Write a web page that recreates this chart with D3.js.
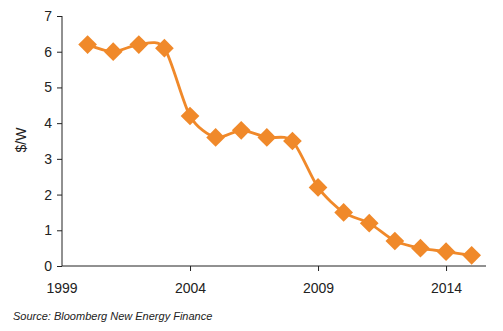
<!DOCTYPE html>
<html>
<head>
<meta charset="utf-8">
<script src="https://cdn.jsdelivr.net/npm/d3@7"></script>
<style>
  body { margin: 0; background: #fff; }
  text { font-family: "Liberation Sans", Arial, sans-serif; fill: #222; }
</style>
</head>
<body>
<div id="chart"></div>
<script>
// Data
var years = [2000, 2001, 2002, 2003, 2004, 2005, 2006, 2007, 2008, 2009, 2010, 2011, 2012, 2013, 2014, 2015];
var prices = [6.2, 6.0, 6.2, 6.1, 4.2, 3.6, 3.8, 3.6, 3.5, 2.2, 1.5, 1.2, 0.7, 0.5, 0.4, 0.3];
var xTicks = [2004, 2009, 2014];
var yTicks = [0, 1, 2, 3, 4, 5, 6, 7];

var width = 503, height = 331;
var margin = { left: 62, top: 16, right: 17, bottom: 65 };

var svg = d3.select("#chart").append("svg")
    .attr("width", width)
    .attr("height", height);

var x = d3.scaleLinear()
    .domain([1999, 2015.56])
    .range([margin.left, width - margin.right]);

var y = d3.scaleLinear()
    .domain([0, 7])
    .range([height - margin.bottom, margin.top]);

// y axis
var yAxis = d3.axisLeft(y)
    .tickValues(yTicks)
    .tickSize(5)
    .tickPadding(5)
    .tickFormat(d3.format("d"));

svg.append("g")
    .attr("transform", "translate(" + margin.left + ",0)")
    .call(yAxis)
    .call(g => g.select(".domain").attr("d", "M0," + y(7) + "V" + y(0)).attr("stroke", "#222"))
    .call(g => g.selectAll(".tick line").attr("stroke", "#222"))
    .call(g => g.selectAll("text").style("font-size", "14px").attr("fill", "#222"));

// x axis
var xAxis = d3.axisBottom(x)
    .tickValues(xTicks)
    .tickSize(5)
    .tickPadding(12)
    .tickFormat(d3.format("d"));

var gx = svg.append("g")
    .attr("transform", "translate(0," + y(0) + ")")
    .call(xAxis)
    .call(g => g.select(".domain").attr("d", "M" + margin.left + ",0H" + (width - margin.right)).attr("stroke", "#222"))
    .call(g => g.selectAll(".tick line").attr("stroke", "#222"))
    .call(g => g.selectAll("text").style("font-size", "14px").attr("fill", "#222"));

// 1999 label at origin (no tick mark)
gx.append("text")
    .attr("x", x(1999))
    .attr("y", 17)
    .attr("dy", "0.71em")
    .attr("text-anchor", "middle")
    .style("font-size", "14px")
    .text("1999");

// y label
svg.append("text")
    .attr("transform", "translate(26,140) rotate(-90)")
    .attr("text-anchor", "middle")
    .style("font-size", "14px")
    .text("$/W");

// line
var orange = "#f0892a";
var line = d3.line()
    .x((d, i) => x(years[i]))
    .y(d => y(d))
    .curve(d3.curveCardinal.tension(0.2));

svg.append("path")
    .datum(prices)
    .attr("d", line)
    .attr("fill", "none")
    .attr("stroke", orange)
    .attr("stroke-width", 2.8);

// diamond markers
var diamond = d3.symbol().type(d3.symbolSquare).size(175);
svg.selectAll(".marker")
    .data(prices)
    .enter().append("path")
    .attr("class", "marker")
    .attr("d", diamond)
    .attr("transform", (d, i) => "translate(" + x(years[i]) + "," + y(d) + ") rotate(45)")
    .attr("fill", orange);

// source
svg.append("text")
    .attr("x", 13)
    .attr("y", 320)
    .style("font-size", "11px")
    .style("font-style", "italic")
    .attr("fill", "#333")
    .text("Source: Bloomberg New Energy Finance");
</script>
</body>
</html>
